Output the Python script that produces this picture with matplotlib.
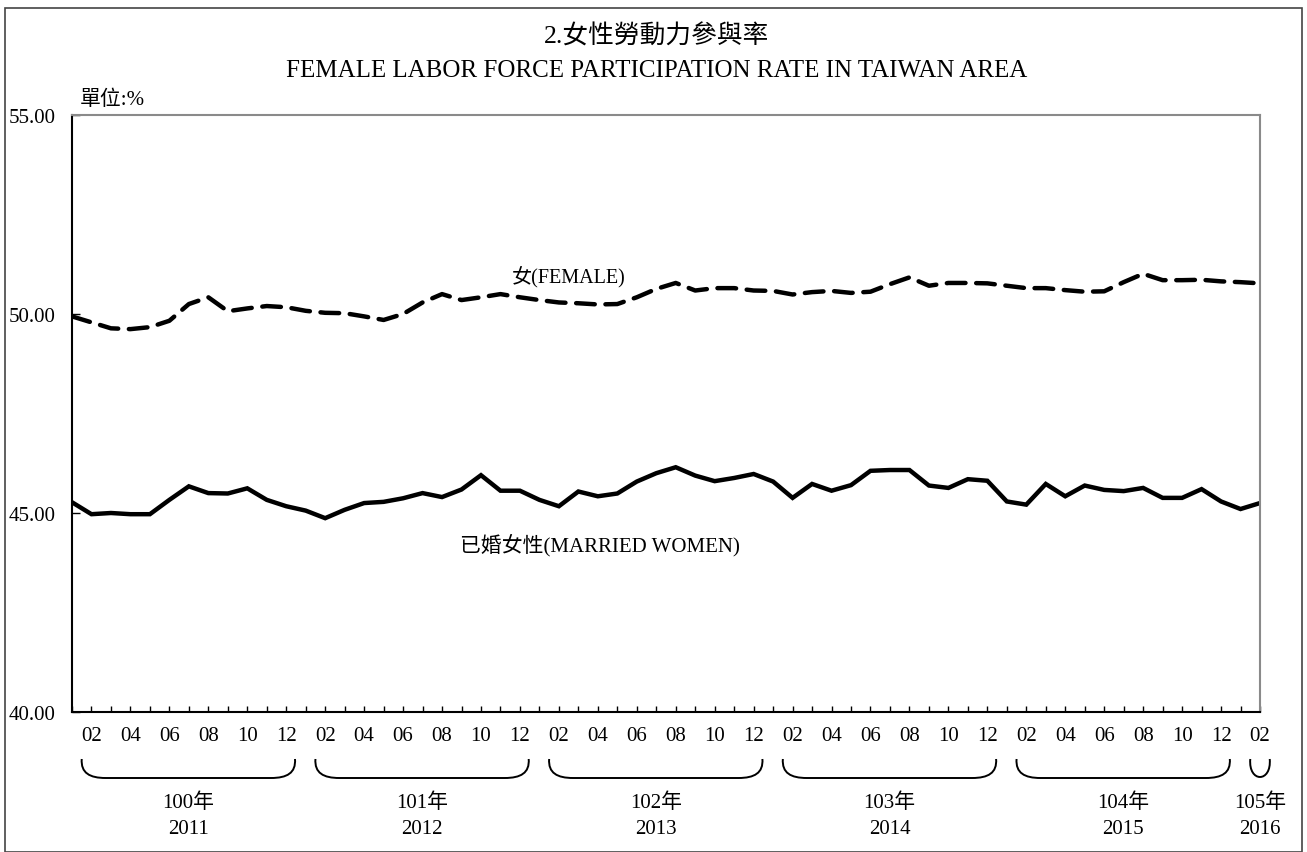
import matplotlib
matplotlib.use("Agg")
import matplotlib.pyplot as plt
from matplotlib.patches import Rectangle
from matplotlib.path import Path
from matplotlib.patches import PathPatch
import numpy as np

plt.rcParams['font.family'] = ['Liberation Serif', 'Noto Sans CJK TC']

# Monthly data, Jan 2011 .. Feb 2016 (62 months)
female = [49.94, 49.79, 49.64, 49.62, 49.67, 49.83, 50.25, 50.42, 50.07, 50.14, 50.20, 50.17,
          50.08, 50.03, 50.02, 49.94, 49.85, 50.00, 50.29, 50.50, 50.35, 50.42, 50.50, 50.42,
          50.35, 50.29, 50.27, 50.24, 50.25, 50.42, 50.63, 50.78, 50.59, 50.65, 50.65, 50.59,
          50.58, 50.49, 50.55, 50.58, 50.53, 50.56, 50.75, 50.92, 50.71, 50.78, 50.78, 50.77,
          50.71, 50.65, 50.65, 50.60, 50.56, 50.57, 50.80, 51.01, 50.85, 50.85, 50.86, 50.82,
          50.80, 50.77]
married = [45.27, 44.97, 45.00, 44.97, 44.97, 45.33, 45.67, 45.50, 45.49, 45.62, 45.33, 45.17,
           45.06, 44.87, 45.08, 45.25, 45.28, 45.37, 45.50, 45.40, 45.59, 45.95, 45.56, 45.56,
           45.33, 45.17, 45.54, 45.42, 45.49, 45.79, 46.00, 46.15, 45.94, 45.80, 45.88, 45.98,
           45.79, 45.38, 45.73, 45.56, 45.70, 46.06, 46.08, 46.08, 45.69, 45.63, 45.85, 45.81,
           45.29, 45.21, 45.73, 45.42, 45.69, 45.58, 45.55, 45.63, 45.38, 45.38, 45.60, 45.29,
           45.10, 45.25]
years_roc = ["100年", "101年", "102年", "103年", "104年", "105年"]
years_ad = ["2011", "2012", "2013", "2014", "2015", "2016"]
months_per_year = [12, 12, 12, 12, 12, 2]
yticks = [40.0, 45.0, 50.0, 55.0]

W, H = 1307, 853
fig = plt.figure(figsize=(W / 100, H / 100), dpi=100)
ax_l, ax_r, ax_t, ax_b = 72, 1260, 116, 713
ax = fig.add_axes([ax_l / W, 1 - ax_b / H, (ax_r - ax_l) / W, (ax_b - ax_t) / H])

x = np.arange(len(female))
ax.plot(x, female, color='black', lw=3.2, linestyle=(0, (4.2, 2.4)), dash_capstyle='round')
ax.plot(x, married, color='black', lw=3.2, solid_joinstyle='miter')

ax.set_xlim(0, len(female) - 1)
ax.set_ylim(40, 55)
ax.set_yticks(yticks)
ax.set_yticklabels([f"{v:.2f}" for v in yticks], fontsize=15)
ax.tick_params(axis='y', direction='in', length=6, width=1, pad=12)
ax.set_xticks(x)
lbls = []
for i in x:
    m = i % 12 + 1
    lbls.append(f"{m:02d}" if m % 2 == 0 else "")
ax.set_xticklabels(lbls, fontsize=15)
ax.tick_params(axis='x', direction='in', length=4, width=1, pad=10)
for s in ['left', 'bottom']:
    ax.spines[s].set_color('black')
    ax.spines[s].set_linewidth(1.5)
for s in ['top', 'right']:
    ax.spines[s].set_color('#8a8a8a')
    ax.spines[s].set_linewidth(1.5)

ax.text(22.6, 50.97, "女(FEMALE)", fontsize=14.5, ha='left', va='center')
ax.text(19.9, 44.22, "已婚女性(MARRIED WOMEN)", fontsize=15, ha='left', va='center')

# Titles
fig.text(657 / W, 1 - 37 / H, "2.女性勞動力參與率", fontsize=18.5, ha='center', va='center')
fig.text(657 / W, 1 - 71 / H, "FEMALE LABOR FORCE PARTICIPATION RATE IN TAIWAN AREA",
         fontsize=18, ha='center', va='center')
fig.text(80 / W, 1 - 100 / H, "單位:%", fontsize=15, ha='left', va='center')

# Year braces and labels
def xpix(i):
    return ax_l + (ax_r - ax_l) * i / (len(female) - 1)

start = 0
for k, n in enumerate(months_per_year):
    x0 = xpix(start + 0.5)
    x1 = xpix(start + n - 0.55) if n > 2 else xpix(start + 1.5)
    ytop, ybot = 760, 779
    if n > 2:
        r = 24
        verts = [(x0, ytop), (x0 - 1, ytop + 14), (x0 + 8, ybot), (x0 + r, ybot),
                 (x1 - r, ybot), (x1 - 8, ybot), (x1 + 1, ytop + 14), (x1, ytop)]
        codes = [Path.MOVETO, Path.CURVE4, Path.CURVE4, Path.CURVE4,
                 Path.LINETO, Path.CURVE4, Path.CURVE4, Path.CURVE4]
    else:
        verts = [(x0, ytop), (x0 - 2, ybot + 5), (x1 + 2, ybot + 5), (x1, ytop)]
        codes = [Path.MOVETO, Path.CURVE4, Path.CURVE4, Path.CURVE4]
    fv = [(vx / W, 1 - vy / H) for vx, vy in verts]
    fig.patches.append(PathPatch(Path(fv, codes), transform=fig.transFigure,
                                 fill=False, lw=1.4, color='black'))
    xc = (x0 + x1) / 2
    fig.text(xc / W, 1 - 803 / H, years_roc[k], fontsize=15, ha='center', va='center')
    fig.text(xc / W, 1 - 830 / H, years_ad[k], fontsize=15, ha='center', va='center')
    start += n

# Outer frame
fig.patches.append(Rectangle((5 / W, 0), (W - 10) / W, 1 - 9 / H, transform=fig.transFigure,
                             fill=False, lw=1.2, edgecolor='#444444'))

fig.savefig("out.png", dpi=100)
